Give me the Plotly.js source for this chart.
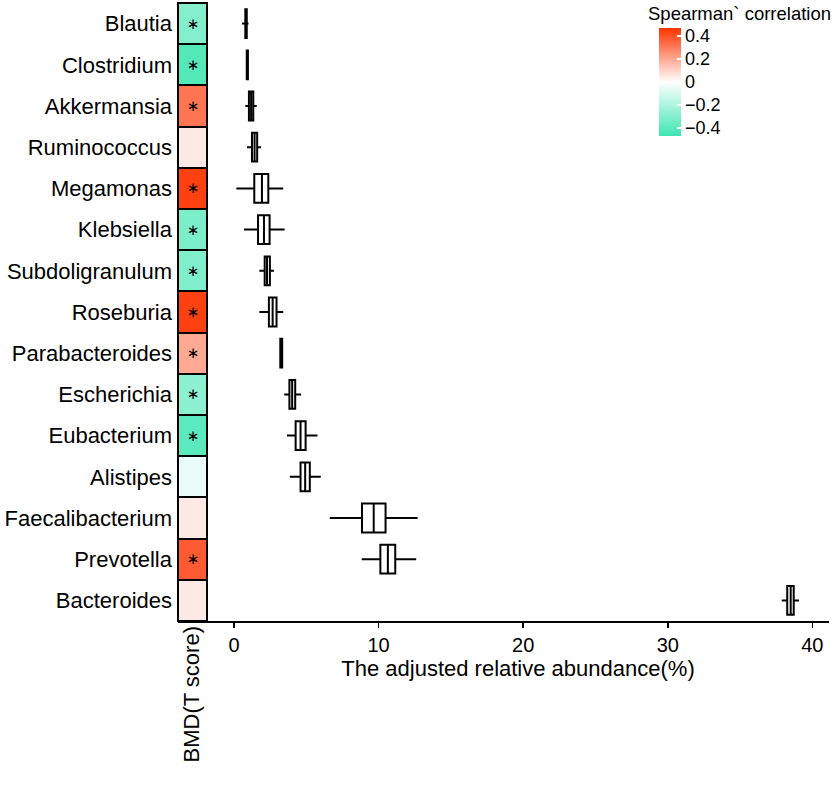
<!DOCTYPE html>
<html><head><meta charset="utf-8">
<script src="https://cdn.plot.ly/plotly-3.0.1.min.js"></script>
<style>body{margin:0;padding:0;background:#fff}#chart{width:836px;height:802px}</style>
</head><body><div id="chart"></div>
<script>
// Genera, top to bottom
const genera = ['Blautia','Clostridium','Akkermansia','Ruminococcus','Megamonas','Klebsiella','Subdoligranulum','Roseburia','Parabacteroides','Escherichia','Eubacterium','Alistipes','Faecalibacterium','Prevotella','Bacteroides'];
// Spearman correlation with BMD (T score)
const spearman = [-0.30,-0.42,0.32,0.05,0.44,-0.32,-0.31,0.44,0.20,-0.28,-0.40,-0.05,0.05,0.38,0.05];
const significant = ['∗','∗','∗','','∗','∗','∗','∗','∗','∗','∗','','','∗',''];
// Box statistics of adjusted relative abundance (%)
const lowerFence = [0.55,0.86,0.78,0.90,0.16,0.69,1.75,1.75,3.15,3.47,3.66,3.86,6.62,8.83,37.88];
const q1 =         [0.78,0.88,1.03,1.24,1.40,1.66,2.12,2.41,3.20,3.83,4.26,4.60,8.85,10.12,38.26];
const median =     [0.83,0.92,1.18,1.42,1.93,2.07,2.28,2.67,3.27,4.02,4.60,4.92,9.66,10.64,38.50];
const q3 =         [0.88,0.96,1.33,1.60,2.37,2.46,2.48,2.94,3.33,4.23,4.95,5.24,10.48,11.15,38.71];
const upperFence = [1.00,0.98,1.57,1.86,3.40,3.50,2.76,3.40,3.38,4.64,5.77,6.00,12.70,12.60,39.08];
const xTicks = [0,10,20,30,40];
const cbTicks = [-0.4,-0.2,0,0.2,0.4];
const cbTickText = ['−0.4','−0.2','0','0.2','0.4'];

const W = 836, H = 802;
const px = v => v / W, py = v => (H - v) / H;
const FONT = 'Liberation Sans, Arial, Helvetica, sans-serif';

const heat = {
  type: 'heatmap',
  x: ['BMD'],
  y: genera,
  z: spearman.map(v => [v]),
  text: significant.map(s => [s]),
  texttemplate: '%{text}',
  textfont: {family: 'DejaVu Sans, ' + FONT, size: 15, color: '#000'},
  xaxis: 'x2', yaxis: 'y',
  zmin: -0.47, zmax: 0.47,
  colorscale: [[0, '#3ee6b1'], [0.5, '#ffffff'], [1, '#ff3300']],
  xgap: 2, ygap: 2,
  hoverinfo: 'skip',
  colorbar: {
    x: px(659), xanchor: 'left', xpad: 0,
    y: py(28), yanchor: 'top', ypad: 0,
    len: 108, lenmode: 'pixels',
    thickness: 22, thicknessmode: 'pixels',
    outlinewidth: 0,
    ticks: 'inside', ticklen: 4, tickcolor: '#ffffff', tickwidth: 1.2,
    tickvals: cbTicks, ticktext: cbTickText,
    tickfont: {family: FONT, size: 18, color: '#000'},
    title: {text: ''}
  }
};

const box = {
  type: 'box',
  orientation: 'h',
  y: genera,
  q1: q1, median: median, q3: q3,
  lowerfence: lowerFence, upperfence: upperFence,
  xaxis: 'x', yaxis: 'y',
  boxpoints: false,
  width: 0.7,
  whiskerwidth: 0,
  fillcolor: '#ffffff',
  line: {color: '#000000', width: 2},
  hoverinfo: 'skip',
  showlegend: false
};

const layout = {
  width: W, height: H,
  margin: {l: 0, r: 0, t: 0, b: 0},
  paper_bgcolor: '#fff', plot_bgcolor: 'rgba(0,0,0,0)',
  font: {family: FONT, color: '#000'},
  showlegend: false,
  xaxis2: {
    domain: [px(178), px(207)], anchor: 'y',
    range: [-0.5, 0.5], showticklabels: false, ticks: '',
    showgrid: false, zeroline: false,
    showline: true, linecolor: '#000', linewidth: 2
  },
  xaxis: {
    domain: [px(207), px(829)], anchor: 'y',
    range: [-1.87, 41.15],
    tickvals: xTicks, ticks: 'outside', ticklen: 5, tickwidth: 1.5, tickcolor: '#000',
    tickfont: {family: FONT, size: 20, color: '#000'},
    showgrid: false, zeroline: false,
    showline: true, linecolor: '#000', linewidth: 2,
    title: {text: 'The adjusted relative abundance(%)', font: {family: FONT, size: 22, color: '#000'}, standoff: 2}
  },
  yaxis: {
    domain: [py(621), py(3)], anchor: 'x2',
    type: 'category', categoryarray: genera, categoryorder: 'array',
    range: [14.5, -0.5],
    showgrid: false, zeroline: false, showline: false, ticks: '',
    ticklabelstandoff: 5,
    tickfont: {family: FONT, size: 22, color: '#000'}
  },
  shapes: [{
    type: 'rect', xref: 'x2 domain', yref: 'y domain', layer: 'below',
    x0: 0, x1: 1, y0: 0, y1: 1,
    fillcolor: '#000', line: {color: '#000', width: 2}
  }],
  annotations: [
    {text: 'BMD(T score)', xref: 'paper', yref: 'paper', x: px(191), y: py(624),
     xanchor: 'center', yanchor: 'top', textangle: -90, showarrow: false,
     font: {family: FONT, size: 22, color: '#000'}},
    {text: 'Spearman` correlation', xref: 'paper', yref: 'paper', x: px(646), y: py(13),
     xanchor: 'left', yanchor: 'middle', showarrow: false,
     font: {family: FONT, size: 18.5, color: '#000'}}
  ]
};

Plotly.newPlot('chart', [heat, box], layout, {displayModeBar: false, staticPlot: true});
</script></body></html>
